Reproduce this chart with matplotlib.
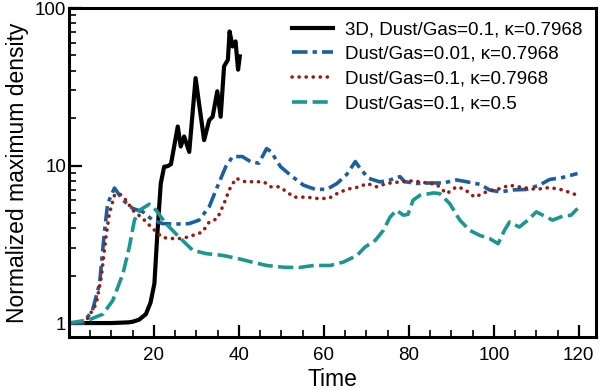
import matplotlib
matplotlib.use("Agg")
import matplotlib.pyplot as plt
import numpy as np
from matplotlib.ticker import FixedLocator, NullFormatter

plt.rcParams['font.family'] = ['Liberation Sans', 'DejaVu Sans']

# 3D, Dust/Gas=0.1, kappa=0.7968
t_3d = [0, 5, 10, 14, 15, 16.5, 18.1, 19.2, 20.1, 20.8, 21.6, 22.4, 23.2, 24.0, 25.6, 26.3, 27.1,
        28.3, 29.8, 30.6, 31.8, 33.0, 33.8, 34.9, 35.7, 36.5, 37.4, 37.8, 38.5, 39.2, 39.8, 40.2]
d_3d = [1.0, 1.0, 1.0, 1.01, 1.02, 1.05, 1.14, 1.35, 1.78, 3.7, 7.7, 9.83, 9.9, 10.2, 17.7, 13.2, 15.3,
        12.2, 35.9, 24.9, 14.5, 19.4, 20.4, 29.6, 20.4, 42.6, 46.9, 71.0, 57.0, 61.4, 40.6, 49.3]

# Dust/Gas=0.01, kappa=0.7968
t_b = [0, 3.3, 5.5, 7.2, 8.3, 9.1, 10.7, 12.7, 15.0, 17.4, 19.7, 22.0, 25.2, 28.3, 30.6, 33.0, 34.6,
       36.9, 38.5, 40.8, 42.7, 44.7, 46.5, 47.5, 49.8, 52.1, 55.2, 58.0, 60.7, 63.1, 65.4, 67.4, 68.5,
       70.5, 73.2, 75.6, 77.9, 79.0, 81.8, 85.0, 88.1, 91.2, 93.5, 96.7, 99.0, 101.4, 104.5, 107.6,
       110.7, 113.1, 116.2, 119.7]
d_b = [1.0, 1.0, 1.2, 1.78, 3.7, 5.74, 7.2, 6.03, 5.34, 5.08, 4.5, 4.28, 4.25, 4.28, 4.5, 5.47, 7.0,
       9.83, 11.4, 11.4, 10.6, 10.35, 12.8, 12.3, 9.83, 8.7, 7.5, 7.06, 7.06, 7.7, 8.8, 10.6, 9.6,
       8.3, 7.87, 8.1, 8.5, 7.9, 7.7, 7.75, 7.75, 8.1, 7.9, 7.6, 7.0, 6.8, 7.0, 7.05,
       7.5, 8.15, 8.4, 8.9]

# Dust/Gas=0.1, kappa=0.7968
t_r = [0, 3.7, 6.4, 7.6, 8.7, 9.5, 10.7, 11.9, 13.4, 15.0, 17.4, 19.7, 22.0, 24.4, 26.7, 29.1, 31.4,
       33.0, 34.9, 36.5, 37.7, 39.3, 41.6, 43.5, 45.9, 47.4, 49.5, 51.3, 52.9, 56.0, 58.4, 61.1, 63.8,
       66.2, 68.5, 70.1, 72.4, 74.8, 77.9, 81.0, 84.2, 86.5, 88.9, 91.2, 93.0, 95.5, 98.2, 101.4,
       103.7, 106.8, 110.0, 113.1, 116.2, 119.7]
d_r = [1.0, 1.0, 1.32, 1.96, 3.52, 4.95, 6.47, 6.63, 6.03, 5.2, 4.6, 3.98, 3.49, 3.44, 3.44, 3.6, 3.78,
       4.38, 4.6, 5.74, 7.0, 8.3, 7.87, 7.9, 7.87, 7.33, 7.33, 6.8, 6.3, 6.3, 6.18, 6.18, 6.8,
       7.14, 7.33, 7.7, 7.33, 7.7, 7.87, 8.0, 7.75, 7.6, 6.63, 7.33, 7.1, 6.3, 6.8, 7.14,
       7.5, 7.25, 7.06, 7.25, 7.0, 6.47]

# Dust/Gas=0.1, kappa=0.5
t_g = [0, 4.8, 8.0, 10.3, 12.7, 14.2, 15.4, 16.6, 18.9, 20.5, 22.8, 25.9, 29.1, 32.2, 36.1, 40.0,
       43.0, 46.5, 50.6, 54.1, 57.6, 61.5, 64.6, 67.8, 69.7, 72.1, 74.0, 75.6, 77.1, 78.7, 79.8,
       81.0, 82.6, 85.8, 87.3, 89.6, 92.0, 94.3, 96.7, 99.0, 101.0, 102.5, 103.7, 106.0, 108.0,
       110.0, 112.3, 113.8, 116.2, 118.2, 119.7]
d_g = [1.0, 1.05, 1.14, 1.39, 2.06, 3.04, 4.5, 5.2, 5.68, 5.2, 4.28, 3.52, 2.9, 2.76, 2.69, 2.56,
       2.44, 2.32, 2.26, 2.25, 2.32, 2.32, 2.44, 2.69, 3.04, 3.35, 3.88, 4.72, 5.2, 4.84, 4.9,
       6.03, 6.47, 6.7, 6.63, 5.74, 4.5, 3.88, 3.6, 3.44, 3.19, 3.88, 4.38, 4.07, 4.5,
       5.08, 4.72, 4.5, 4.77, 4.84, 5.34]

labels = ["3D, Dust/Gas=0.1, \u03ba=0.7968",
          "Dust/Gas=0.01, \u03ba=0.7968",
          "Dust/Gas=0.1, \u03ba=0.7968",
          "Dust/Gas=0.1, \u03ba=0.5"]

fig = plt.figure(figsize=(6.0, 3.91), dpi=100)
ax = fig.add_axes([0.115, 0.138, 0.878, 0.8415])

ax.plot(t_3d, d_3d, color='black', lw=3.0, label=labels[0], solid_joinstyle='round')
ax.plot(t_b, d_b, color='#1b5f9c', lw=2.6, dashes=(4.3, 1.4, 1.2, 1.4), label=labels[1])
ax.plot(t_r, d_r, color='#9c1c12', lw=2.6, dashes=(0.05, 1.9), dash_capstyle='round', label=labels[2])
ax.plot(t_g, d_g, color='#1a9890', lw=2.6, dashes=(4.2, 1.5), label=labels[3])

ax.set_yscale('log')
ax.set_xlim(0, 124)
ax.set_ylim(0.815, 100)

ax.yaxis.set_major_locator(FixedLocator([1, 10, 100]))
ax.set_yticklabels(['1', '10', '100'])
minor_y = [m * 10 ** e for e in (0, 1) for m in range(2, 10)]
ax.yaxis.set_minor_locator(FixedLocator(minor_y))
ax.yaxis.set_minor_formatter(NullFormatter())

ax.xaxis.set_major_locator(FixedLocator([20, 40, 60, 80, 100, 120]))
ax.xaxis.set_minor_locator(FixedLocator([5, 10, 15, 25, 30, 35, 45, 50, 55, 65, 70, 75,
                                         85, 90, 95, 105, 110, 115]))

ax.tick_params(which='major', direction='in', length=9, width=1.6, labelsize=13.5,
               top=False, right=False)
ax.tick_params(which='minor', direction='in', length=5, width=1.2, top=False, right=False)
ax.tick_params(axis='x', which='major', pad=7)
ax.tick_params(axis='y', which='major', pad=2)

for sp in ax.spines.values():
    sp.set_linewidth(2.2)

ax.set_xlabel('Time', fontsize=16.5, labelpad=3)
ax.set_ylabel('Normalized maximum density', fontsize=16.5, labelpad=4)

leg = ax.legend(loc='upper right', frameon=False, fontsize=13.5, handlelength=2.2,
                handletextpad=0.65, labelspacing=0.4, borderaxespad=0.3)

fig.savefig('out.png', dpi=100)
